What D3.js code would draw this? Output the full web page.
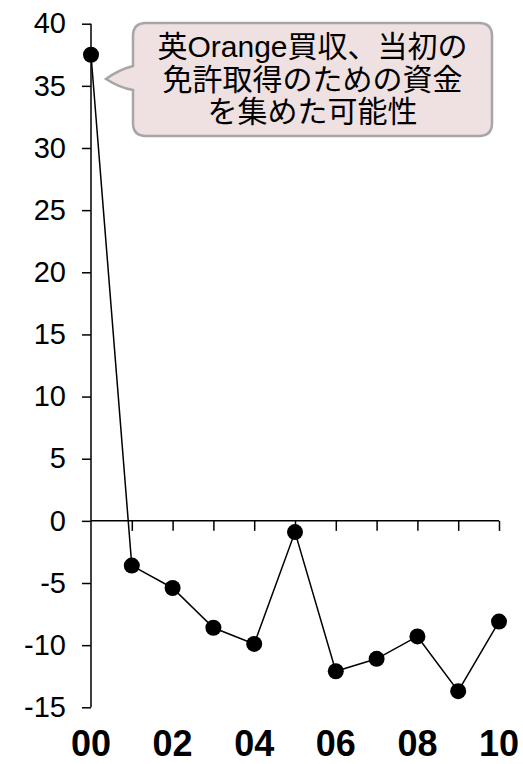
<!DOCTYPE html>
<html>
<head>
<meta charset="utf-8">
<script src="https://cdn.jsdelivr.net/npm/d3@7"></script>
<style>
  html, body { margin: 0; padding: 0; background: #fff; }
  svg { display: block; }
</style>
</head>
<body>
<svg id="chart" width="523" height="764"></svg>
<script>
// ---- data ----
const years = [2000, 2001, 2002, 2003, 2004, 2005, 2006, 2007, 2008, 2009, 2010];
const values = [37.5, -3.6, -5.4, -8.6, -9.9, -0.9, -12.1, -11.1, -9.3, -13.7, -8.1];
const xTickLabels = ["00", "02", "04", "06", "08", "10"];
const xLabelYears = [2000, 2002, 2004, 2006, 2008, 2010];
const yTicks = [40, 35, 30, 25, 20, 15, 10, 5, 0, -5, -10, -15];
const calloutLines = ["英Orange買収、当初の", "免許取得のための資金", "を集めた可能性"];

// ---- layout ----
const svg = d3.select("#chart");
const x = d3.scaleLinear().domain([2000, 2010]).range([91, 499]);
const y = d3.scaleLinear().domain([-15, 40]).range([707.3, 23.7]);

const latin = "'Liberation Sans', Arial, sans-serif";
const cjk = "'Liberation Sans', 'Noto Sans CJK JP', sans-serif";

// y axis
const yAxis = d3.axisLeft(y).tickValues(yTicks).tickSize(9).tickPadding(16).tickFormat(d => String(d));
const gy = svg.append("g").attr("transform", `translate(${x(2000)},0)`).call(yAxis);
gy.select(".domain").attr("d", `M0,${y(40)}V${y(-15)}`).attr("stroke", "#000").attr("stroke-width", 1.5);
gy.selectAll(".tick line").attr("stroke", "#000").attr("stroke-width", 1.5);
gy.selectAll(".tick text")
  .attr("font-family", latin).attr("font-size", 29).attr("fill", "#000");

// x axis at zero
const xAxis = d3.axisBottom(x).tickValues(years.slice(1)).tickSize(10).tickFormat("");
const gx = svg.append("g").attr("transform", `translate(0,${y(0)})`).call(xAxis);
gx.select(".domain").attr("d", `M${x(2000)},0H${x(2010)}`).attr("stroke", "#000").attr("stroke-width", 1.5);
gx.selectAll(".tick line").attr("stroke", "#000").attr("stroke-width", 1.5);

// x labels at bottom
svg.append("g").selectAll("text").data(xLabelYears).join("text")
  .attr("x", d => x(d)).attr("y", 756)
  .attr("text-anchor", "middle")
  .attr("font-family", latin).attr("font-weight", "bold").attr("font-size", 36)
  .attr("fill", "#000")
  .text((d, i) => xTickLabels[i]);

// line
const line = d3.line().x((d, i) => x(years[i])).y(d => y(d));
svg.append("path").datum(values).attr("d", line)
  .attr("fill", "none").attr("stroke", "#000").attr("stroke-width", 1.5);

// dots
svg.append("g").selectAll("circle").data(values).join("circle")
  .attr("cx", (d, i) => x(years[i])).attr("cy", d => y(d)).attr("r", 8).attr("fill", "#000");

// callout
const x0 = 133, x1 = 492, y0 = 23, y1 = 136, r = 13;
const tipX = 106, tipY = 79;
const p = `M${x0 + r},${y0} H${x1 - r} Q${x1},${y0} ${x1},${y0 + r} V${y1 - r} Q${x1},${y1} ${x1 - r},${y1}` +
  ` H${x0 + r} Q${x0},${y1} ${x0},${y1 - r} V90 Q120,88 ${tipX},${tipY} Q118,70 ${x0},66 V${y0 + r} Q${x0},${y0} ${x0 + r},${y0} Z`;
svg.append("path").attr("d", p)
  .attr("fill", "#EFE1E1").attr("stroke", "#A6A6A6").attr("stroke-width", 2.5);

svg.append("g").selectAll("text").data(calloutLines).join("text")
  .attr("x", (x0 + x1) / 2)
  .attr("y", (d, i) => 57 + i * 32.5)
  .attr("text-anchor", "middle")
  .attr("font-family", cjk).attr("font-size", 30)
  .attr("fill", "#000")
  .text(d => d);
</script>
</body>
</html>
